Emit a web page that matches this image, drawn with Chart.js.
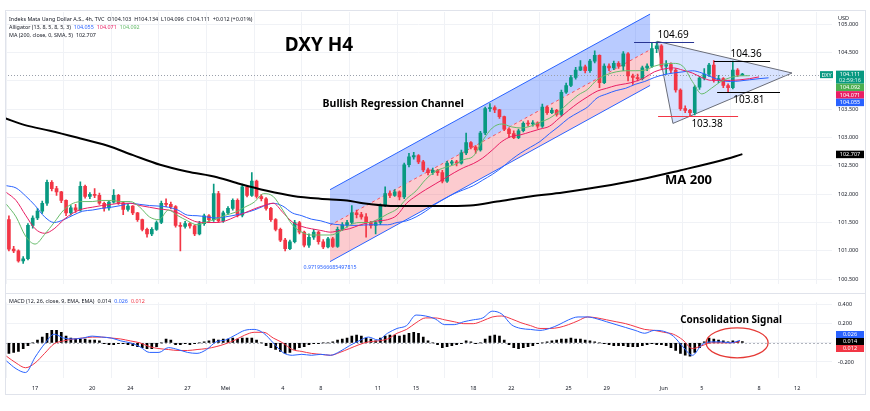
<!DOCTYPE html>
<html>
<head>
<meta charset="utf-8">
<script src="https://cdn.jsdelivr.net/npm/chart.js@4.4.0/dist/chart.umd.min.js"></script>
<style>
  body { margin: 0; background: #fff; }
  #wrap { position: relative; width: 870px; height: 411px; }
  canvas { position: absolute; left: 0; }
  #main { top: 0; }
  #macd { top: 293px; }
  #frame { position: absolute; left: 5px; top: 10px; width: 861px; height: 385px; border: 1px solid #e0e3eb; box-sizing: border-box; pointer-events: none; }
  #sep { position: absolute; left: 5px; top: 293px; width: 861px; height: 1px; background: #e0e3eb; }
</style>
</head>
<body>
<div id="wrap">
  <canvas id="main" width="870" height="293"></canvas>
  <canvas id="macd" width="870" height="102"></canvas>
  <div id="sep"></div>
  <div id="frame"></div>
</div>
<script>
// ---- data (DXY, 4 bars per trading day, x axis in trading days from 13 Apr) ----
const firstBarDay = 0.625;
const barStep = 0.25;

const opens = [
  101.55, 101.03, 101.00, 100.82, 100.86, 101.45, 101.58, 101.70, 101.84, 102.21,
  102.10, 102.04, 101.89, 101.67, 101.76, 101.72, 102.14, 101.96, 102.00, 101.98,
  101.84, 101.76, 101.86, 101.98, 101.85, 101.73, 101.79, 101.67, 101.55, 101.38,
  101.30, 101.38, 101.50, 101.84, 101.82, 101.78, 101.45, 101.43, 101.48, 101.44,
  101.30, 101.48, 101.62, 101.55, 102.01, 101.53, 101.67, 101.75, 101.89, 101.63,
  102.13, 101.98, 102.23, 101.96, 101.92, 101.75, 101.55, 101.38, 101.19, 101.04,
  101.16, 101.50, 101.33, 101.10, 101.24, 101.33, 101.16, 101.07, 101.21, 101.08,
  101.38, 101.46, 101.50, 101.67, 101.64, 101.60, 101.50, 101.45, 101.50, 101.80,
  102.01, 101.98, 102.04, 101.95, 102.52, 102.66, 102.68, 102.57, 102.43, 102.38,
  102.42, 102.38, 102.23, 102.55, 102.57, 102.55, 102.73, 102.91, 102.83, 102.78,
  103.08, 103.51, 103.53, 103.49, 103.37, 103.15, 103.07, 103.00, 103.12, 103.25,
  103.24, 103.26, 103.20, 103.54, 103.44, 103.48, 103.41, 103.80, 103.92, 104.06,
  104.19, 104.25, 104.18, 104.35, 104.45, 103.97, 104.26, 104.23, 104.31, 104.26,
  104.48, 104.09, 104.06, 104.04, 104.23, 104.26, 104.57, 104.62, 104.26, 104.29,
  104.19, 103.84, 103.51, 103.48, 103.44, 103.89, 104.05, 104.12, 104.28, 104.02,
  104.04, 103.92, 103.88, 104.19, 104.103
];
const highs = [
  101.62, 101.08, 101.02, 100.90, 101.48, 101.62, 101.75, 101.88, 102.25, 102.24,
  102.14, 102.05, 101.90, 101.80, 101.82, 102.22, 102.16, 102.03, 102.10, 102.02,
  101.86, 101.88, 102.08, 102.00, 101.87, 101.82, 101.80, 101.68, 101.56, 101.40,
  101.41, 101.53, 101.88, 101.92, 101.86, 101.80, 101.50, 101.52, 101.50, 101.46,
  101.52, 101.65, 101.64, 102.18, 102.05, 101.70, 101.78, 101.92, 101.92, 102.18,
  102.15, 102.38, 102.25, 102.00, 101.94, 101.77, 101.57, 101.40, 101.22, 101.19,
  101.54, 101.52, 101.35, 101.30, 101.38, 101.35, 101.20, 101.24, 101.24, 101.42,
  101.50, 101.54, 101.80, 101.72, 101.68, 101.66, 101.52, 101.53, 101.83, 102.13,
  102.06, 102.08, 102.06, 102.55, 102.72, 102.74, 102.70, 102.60, 102.46, 102.46,
  102.44, 102.42, 102.58, 102.60, 102.60, 102.78, 103.08, 102.93, 102.86, 103.11,
  103.54, 103.60, 103.56, 103.50, 103.38, 103.17, 103.12, 103.15, 103.28, 103.30,
  103.30, 103.28, 103.59, 103.56, 103.52, 103.50, 103.84, 103.96, 104.10, 104.24,
  104.36, 104.28, 104.38, 104.53, 104.46, 104.30, 104.30, 104.35, 104.34, 104.52,
  104.50, 104.12, 104.12, 104.26, 104.30, 104.68, 104.69, 104.64, 104.36, 104.32,
  104.22, 103.86, 103.56, 103.50, 103.92, 104.08, 104.22, 104.31, 104.36, 104.10,
  104.06, 103.95, 104.35, 104.22, 104.134
];
const lows = [
  101.00, 100.97, 100.80, 100.78, 100.84, 101.40, 101.55, 101.66, 101.80, 102.06,
  101.98, 101.85, 101.62, 101.63, 101.68, 101.70, 101.93, 101.92, 101.94, 101.82,
  101.70, 101.72, 101.84, 101.82, 101.64, 101.70, 101.64, 101.52, 101.35, 101.24,
  101.27, 101.36, 101.48, 101.78, 101.74, 101.42, 101.00, 101.40, 101.40, 101.27,
  101.28, 101.45, 101.50, 101.52, 101.50, 101.50, 101.64, 101.72, 101.60, 101.60,
  101.95, 101.96, 101.93, 101.88, 101.72, 101.52, 101.35, 101.16, 101.00, 101.02,
  101.14, 101.30, 101.07, 101.06, 101.20, 101.12, 101.04, 101.05, 101.06, 101.06,
  101.36, 101.42, 101.48, 101.58, 101.56, 101.24, 101.40, 101.30, 101.46, 101.78,
  101.94, 101.96, 101.90, 101.92, 102.48, 102.62, 102.54, 102.40, 102.34, 102.35,
  102.33, 102.20, 102.21, 102.52, 102.50, 102.53, 102.70, 102.80, 102.72, 102.76,
  103.05, 103.46, 103.44, 103.34, 103.12, 103.00, 102.98, 102.98, 103.10, 103.20,
  103.20, 103.16, 103.18, 103.41, 103.42, 103.38, 103.38, 103.78, 103.90, 104.03,
  104.18, 104.14, 104.15, 104.32, 103.88, 103.95, 104.18, 104.20, 104.22, 104.18,
  104.00, 103.94, 104.00, 104.02, 104.18, 104.24, 104.50, 104.22, 104.12, 104.14,
  103.80, 103.48, 103.44, 103.38, 103.40, 103.85, 104.02, 104.08, 103.98, 103.97,
  103.88, 103.81, 103.86, 104.08, 104.096
];
const closes = [
  101.03, 101.00, 100.82, 100.86, 101.45, 101.58, 101.70, 101.84, 102.21, 102.10,
  102.04, 101.89, 101.67, 101.76, 101.72, 102.14, 101.96, 102.00, 101.98, 101.84,
  101.76, 101.86, 101.98, 101.85, 101.73, 101.79, 101.67, 101.55, 101.38, 101.30,
  101.38, 101.50, 101.84, 101.82, 101.78, 101.45, 101.43, 101.48, 101.44, 101.30,
  101.48, 101.62, 101.55, 102.01, 101.53, 101.67, 101.75, 101.89, 101.63, 102.13,
  101.98, 102.23, 101.96, 101.92, 101.75, 101.55, 101.38, 101.19, 101.04, 101.16,
  101.50, 101.33, 101.10, 101.24, 101.33, 101.16, 101.07, 101.21, 101.08, 101.38,
  101.46, 101.50, 101.67, 101.64, 101.60, 101.50, 101.45, 101.50, 101.80, 102.01,
  101.98, 102.04, 101.95, 102.52, 102.66, 102.68, 102.57, 102.43, 102.38, 102.42,
  102.38, 102.23, 102.55, 102.57, 102.55, 102.73, 102.91, 102.83, 102.78, 103.08,
  103.51, 103.53, 103.49, 103.37, 103.15, 103.07, 103.00, 103.12, 103.25, 103.24,
  103.26, 103.20, 103.54, 103.44, 103.48, 103.41, 103.80, 103.92, 104.06, 104.19,
  104.25, 104.18, 104.35, 104.45, 103.97, 104.26, 104.23, 104.31, 104.26, 104.48,
  104.09, 104.06, 104.04, 104.23, 104.26, 104.57, 104.62, 104.26, 104.29, 104.19,
  103.84, 103.51, 103.48, 103.44, 103.89, 104.05, 104.12, 104.28, 104.02, 104.04,
  103.92, 103.88, 104.19, 104.10, 104.111
];

// Alligator lines and MACD lines, sampled every half trading day from day 0.5
const lineDayStart = 0.5;
const lineDayStep = 0.5;
const jaw = [
  102.15, 102.11, 101.97, 101.80, 101.60, 101.50, 101.55, 101.63, 101.70, 101.72,
  101.75, 101.77, 101.80, 101.84, 101.82, 101.80, 101.79, 101.77, 101.72, 101.63,
  101.62, 101.60, 101.58, 101.60, 101.63, 101.67, 101.72, 101.79, 101.84, 101.79,
  101.67, 101.62, 101.56, 101.53, 101.48, 101.46, 101.45, 101.45, 101.46, 101.46,
  101.46, 101.50, 101.53, 101.60, 101.70, 101.82, 101.92, 102.01, 102.08, 102.15,
  102.25, 102.35, 102.47, 102.61, 102.73, 102.83, 102.93, 103.07, 103.20, 103.34,
  103.44, 103.54, 103.70, 103.77, 103.83, 103.87, 103.94, 103.99, 104.06, 104.11,
  104.14, 104.16, 104.18, 104.14, 104.07, 104.01, 103.99, 104.00, 104.02, 104.04,
  104.055
];
const teeth = [
  102.03, 101.89, 101.63, 101.39, 101.31, 101.39, 101.55, 101.67, 101.74, 101.77,
  101.80, 101.82, 101.84, 101.84, 101.80, 101.77, 101.74, 101.72, 101.67, 101.58,
  101.51, 101.50, 101.50, 101.53, 101.60, 101.67, 101.74, 101.80, 101.84, 101.68,
  101.51, 101.43, 101.39, 101.36, 101.33, 101.36, 101.39, 101.45, 101.50, 101.53,
  101.55, 101.63, 101.84, 101.97, 102.08, 102.18, 102.28, 102.38, 102.47, 102.54,
  102.64, 102.78, 102.93, 103.02, 103.05, 103.10, 103.15, 103.20, 103.34, 103.48,
  103.61, 103.72, 103.82, 103.87, 103.92, 103.95, 103.99, 104.06, 104.16, 104.21,
  104.23, 104.19, 104.14, 104.06, 104.01, 104.01, 104.01, 104.02, 104.04, 104.071,
  null
];
const lips = [
  101.82, 101.60, 101.26, 101.12, 101.29, 101.50, 101.72, 101.84, 101.87, 101.87,
  101.89, 101.89, 101.87, 101.87, 101.77, 101.60, 101.55, 101.72, 101.62, 101.53,
  101.46, 101.51, 101.56, 101.63, 101.68, 101.77, 101.86, 102.01, 101.96, 101.72,
  101.46, 101.33, 101.28, 101.28, 101.28, 101.34, 101.45, 101.50, 101.50, 101.56,
  101.65, 101.74, 101.92, 102.06, 102.26, 102.40, 102.47, 102.52, 102.61, 102.67,
  102.95, 103.17, 103.24, 103.19, 103.17, 103.20, 103.27, 103.34, 103.46, 103.61,
  103.75, 103.85, 104.02, 104.11, 104.16, 104.18, 104.18, 104.19, 104.26, 104.30,
  104.31, 104.26, 103.99, 103.77, 103.87, 103.99, 104.06, 104.09, 104.092, null,
  null
];
const macdLine = [
  -0.19, -0.27, -0.31, -0.15, -0.01, 0.09, 0.05, 0.04, 0.05, 0.07,
  0.06, 0.05, 0.02, 0.00, -0.04, -0.10, -0.10, -0.05, -0.07, -0.10,
  -0.11, -0.07, 0.01, 0.03, 0.08, 0.13, 0.14, 0.10, 0.00, -0.10,
  -0.13, -0.12, -0.13, -0.12, -0.13, -0.09, -0.03, 0.02, 0.06, 0.03,
  0.10, 0.15, 0.18, 0.29, 0.28, 0.25, 0.19, 0.19, 0.22, 0.24,
  0.26, 0.33, 0.30, 0.19, 0.15, 0.14, 0.13, 0.15, 0.19, 0.24,
  0.27, 0.27, 0.25, 0.22, 0.19, 0.16, 0.13, 0.10, 0.13, 0.12,
  0.07, -0.04, -0.13, -0.02, 0.01, 0.01, 0.00, 0.026
];
const signalLine = [
  -0.14, -0.21, -0.26, -0.21, -0.11, -0.01, 0.02, 0.04, 0.05, 0.06,
  0.06, 0.05, 0.04, 0.02, 0.00, -0.04, -0.06, -0.07, -0.08, -0.08,
  -0.07, -0.06, -0.04, -0.01, 0.03, 0.08, 0.11, 0.11, 0.05, 0.00,
  -0.07, -0.09, -0.11, -0.12, -0.13, -0.10, -0.06, -0.02, 0.01, 0.02,
  0.04, 0.10, 0.14, 0.21, 0.26, 0.26, 0.24, 0.22, 0.20, 0.20,
  0.23, 0.27, 0.28, 0.25, 0.21, 0.18, 0.15, 0.15, 0.16, 0.19,
  0.23, 0.27, 0.26, 0.24, 0.22, 0.20, 0.17, 0.14, 0.13, 0.11,
  0.09, 0.03, -0.06, -0.03, 0.00, 0.00, 0.00, 0.012
];
// MACD histogram, one value per bar
const macdHist = [
  -0.11, -0.10, -0.09, -0.06, -0.03, 0.00, 0.03, 0.06, 0.10, 0.13,
  0.13, 0.11, 0.07, 0.05, 0.04, 0.04, 0.04, 0.03, 0.03, 0.02,
  -0.01, -0.02, -0.02, -0.01, -0.01, -0.02, -0.03, -0.04, -0.05, -0.06,
  -0.06, -0.04, 0.00, 0.04, 0.03, -0.02, -0.02, -0.01, -0.02, -0.01,
  0.00, 0.01, 0.02, 0.04, 0.03, 0.04, 0.04, 0.05, 0.04, 0.05,
  0.05, 0.05, 0.03, 0.00, -0.03, -0.05, -0.07, -0.09, -0.11, -0.10,
  -0.07, -0.05, -0.04, -0.02, -0.01, -0.01, 0.00, 0.00, 0.01, 0.03,
  0.04, 0.05, 0.07, 0.08, 0.07, 0.05, 0.04, 0.02, 0.05, 0.07,
  0.08, 0.08, 0.07, 0.08, 0.10, 0.11, 0.10, 0.06, 0.02, 0.00,
  -0.02, -0.05, -0.04, -0.03, -0.02, -0.01, 0.02, 0.01, -0.01, 0.00,
  0.04, 0.07, 0.08, 0.07, 0.03, -0.02, -0.05, -0.06, -0.05, -0.04,
  -0.03, -0.01, 0.00, 0.01, 0.02, 0.03, 0.04, 0.04, 0.05, 0.04,
  0.04, 0.03, 0.02, 0.01, 0.00, -0.01, -0.02, -0.03, -0.03, -0.03,
  -0.04, -0.04, -0.04, -0.03, -0.02, -0.01, -0.02, -0.02, -0.03, -0.05,
  -0.08, -0.11, -0.13, -0.14, -0.10, -0.05, 0.01, 0.05, 0.04, 0.03,
  0.02, 0.01, 0.02, 0.015, 0.014
];

// MA 200 (sparse read-out)
const maDays = [0.42, 1.47, 2.78, 4.2, 5.77, 7.14, 8.56, 9.97, 11.55, 12.76, 14.17, 15.54, 16.96,
  18.37, 19.21, 21, 23.25, 24.83, 26.25, 27.98, 29.71, 31.65, 33.75, 35.85, 37.95, 39.125];
const ma200 = [103.34, 103.22, 103.12, 103.00, 102.86, 102.69, 102.52, 102.40, 102.30, 102.18, 102.06, 101.97, 101.92,
  101.89, 101.84, 101.79, 101.79, 101.80, 101.87, 101.96, 102.03, 102.13, 102.26, 102.42, 102.59, 102.707];

// axis ticks
const dateTickDays = [2, 5, 7, 10, 12, 15, 17, 20, 22, 25, 27, 30, 32, 35, 37, 40, 42];
const dateTickLabels = ['17', '20', '24', '27', 'Mei', '4', '8', '11', '15', '18', '22', '25', '29', 'Jun', '5', '8', '12'];
const priceTicks = [100.5, 101, 101.5, 102, 102.5, 103, 103.5, 104, 104.5, 105];
const macdTicks = [-0.2, 0, 0.2, 0.4];

// drawings
const channelDays = [17.48, 34.28];
const channelTop = [102.08, 105.18];
const channelMid = [101.45, 104.55];
const channelBottom = [100.81, 103.92];
const triangleDays = [34.65, 35.48, 41.73];
const trianglePrices = [104.70, 103.25, 104.14];
const levelValues = [104.69, 104.36, 103.81, 103.38];
const levelFrom = [33.44, 37.64, 37.80, 34.70];
const levelTo = [36.59, 40.58, 41.10, 38.90];
const levelLabelDays = [35.49, 39.32, 39.47, 37.27];

// ---- styling ----
const UP = '#089981', DOWN = '#f23645';
const JAW = '#2962ff', TEETH = '#e91e63', LIPS = '#66bb6a';
const gridColor = '#f0f2f6';
const FONT = '"Noto Sans", sans-serif';
Chart.defaults.font.family = FONT;

const barDays = closes.map((c, i) => firstBarDay + i * barStep);
const lineDays = jaw.map((v, i) => lineDayStart + i * lineDayStep);
const candleColors = closes.map((c, i) => c >= opens[i] ? UP : DOWN);
const lastClose = closes[closes.length - 1];

function xAxis(showLabels) {
  return {
    type: 'linear', min: 0.42, max: 43.83, offset: false,
    afterBuildTicks: s => { s.ticks = dateTickDays.map(v => ({ value: v })); },
    grid: { color: gridColor, drawTicks: false },
    border: { display: false },
    ticks: {
      display: showLabels, autoSkip: false, maxRotation: 0, padding: 7,
      callback: (v, i) => dateTickLabels[i],
      font: { size: 5.5 }, color: '#131722'
    },
    afterFit: s => { s.height = showLabels ? 17 : 0; }
  };
}

function rightAxis(min, max, ticks, digits) {
  return {
    type: 'linear', position: 'right', min: min, max: max,
    afterBuildTicks: s => { s.ticks = ticks.map(v => ({ value: v })); },
    grid: { color: gridColor, drawTicks: false },
    border: { display: false },
    ticks: { callback: v => v.toFixed(digits), font: { size: 5.5 }, color: '#131722', padding: 6 },
    afterFit: s => { s.width = 38; }
  };
}

function tag(ctx, x, top, w, h, bg, text, fg) {
  ctx.fillStyle = bg;
  ctx.fillRect(x, top, w, h);
  ctx.fillStyle = fg || '#fff';
  ctx.font = '5.5px ' + FONT;
  ctx.textAlign = 'center';
  ctx.textBaseline = 'middle';
  ctx.fillText(text, x + w / 2, top + h / 2 + 0.3);
}

function segments(ctx, x, y, parts) {
  ctx.textAlign = 'left';
  ctx.textBaseline = 'middle';
  ctx.font = '5.4px ' + FONT;
  parts.forEach(([t, c]) => {
    ctx.fillStyle = c;
    ctx.fillText(t, x, y);
    x += ctx.measureText(t).width + 3;
  });
}

function label(ctx, text, px, py, font, color) {
  ctx.font = font;
  ctx.fillStyle = color;
  ctx.textAlign = 'center';
  ctx.textBaseline = 'middle';
  ctx.fillText(text, px, py);
}

const mainDrawings = {
  id: 'mainDrawings',
  beforeDatasetsDraw(chart) {
    const { ctx, chartArea: a, scales: { x, y } } = chart;
    ctx.save();
    const x0 = x.getPixelForValue(channelDays[0]);
    const x1 = x.getPixelForValue(channelDays[1]);
    const band = (up, dn, color) => {
      ctx.fillStyle = color;
      ctx.beginPath();
      ctx.moveTo(x0, y.getPixelForValue(up[0]));
      ctx.lineTo(x1, y.getPixelForValue(up[1]));
      ctx.lineTo(x1, y.getPixelForValue(dn[1]));
      ctx.lineTo(x0, y.getPixelForValue(dn[0]));
      ctx.closePath();
      ctx.fill();
    };
    band(channelTop, channelMid, 'rgba(41,98,255,0.33)');
    band(channelMid, channelBottom, 'rgba(242,54,69,0.26)');
    const line = (arr, color, dash) => {
      ctx.strokeStyle = color;
      ctx.lineWidth = 1;
      ctx.setLineDash(dash || []);
      ctx.beginPath();
      ctx.moveTo(x0, y.getPixelForValue(arr[0]));
      ctx.lineTo(x1, y.getPixelForValue(arr[1]));
      ctx.stroke();
    };
    line(channelTop, '#2962ff');
    line(channelBottom, '#2962ff');
    line(channelMid, 'rgba(242,54,69,0.8)', [3, 3]);
    ctx.setLineDash([]);

    // triangle
    ctx.beginPath();
    triangleDays.forEach((d, i) => {
      const px = x.getPixelForValue(d), py = y.getPixelForValue(trianglePrices[i]);
      if (i === 0) ctx.moveTo(px, py); else ctx.lineTo(px, py);
    });
    ctx.closePath();
    ctx.fillStyle = 'rgba(41,98,255,0.18)';
    ctx.fill();
    ctx.strokeStyle = '#6a6d78';
    ctx.lineWidth = 1;
    ctx.stroke();

    // last price line
    const ly = Math.round(y.getPixelForValue(lastClose)) + 0.5;
    ctx.strokeStyle = '#9aa0ab';
    ctx.setLineDash([1, 2]);
    ctx.beginPath();
    ctx.moveTo(a.left, ly);
    ctx.lineTo(a.right, ly);
    ctx.stroke();
    ctx.restore();
  },
  afterDraw(chart) {
    const { ctx, chartArea: a, scales: { x, y } } = chart;
    ctx.save();
    // horizontal levels
    const levelColors = ['#283593', '#000', '#000', '#f23645'];
    const levelOffset = [-7, -7, 8, 8];
    levelValues.forEach((v, i) => {
      const py = Math.round(y.getPixelForValue(v)) + 0.5;
      ctx.strokeStyle = levelColors[i];
      ctx.lineWidth = 1.2;
      ctx.beginPath();
      ctx.moveTo(x.getPixelForValue(levelFrom[i]), py);
      ctx.lineTo(x.getPixelForValue(levelTo[i]), py);
      ctx.stroke();
      label(ctx, v.toFixed(2), x.getPixelForValue(levelLabelDays[i]), py + levelOffset[i], '10px ' + FONT, '#000');
    });

    // titles
    label(ctx, 'DXY H4', x.getPixelForValue(16.9), y.getPixelForValue(104.62), 'bold 19px ' + FONT, '#000');
    label(ctx, 'Bullish Regression Channel', x.getPixelForValue(20.8), y.getPixelForValue(103.60), 'bold 10.5px ' + FONT, '#000');
    label(ctx, 'MA 200', x.getPixelForValue(36.3), y.getPixelForValue(102.25), 'bold 13px ' + FONT, '#000');
    label(ctx, '0.9719566685497815', x.getPixelForValue(channelDays[0]), y.getPixelForValue(100.71), '5.3px ' + FONT, '#2962ff');

    // header
    segments(ctx, 9, 19, [['Indeks Mata Uang Dollar A.S., 4h, TVC', '#131722'],
      ['O104.103  H104.134  L104.096  C104.111  +0.012 (+0.01%)', '#131722']]);
    segments(ctx, 9, 27, [['Alligator (13, 8, 5, 8, 5, 3)', '#131722'], ['104.055', JAW], ['104.071', TEETH], ['104.092', LIPS]]);
    segments(ctx, 9, 35, [['MA (200, close, 0, SMA, 5)', '#131722'], ['102.707', '#131722']]);

    // price scale tags
    const tx = a.right + 4, tw = 28;
    ctx.fillStyle = '#fff';
    ctx.fillRect(a.right + 1, 12, 37, 10);
    ctx.font = '5.5px ' + FONT;
    ctx.fillStyle = '#131722';
    ctx.textAlign = 'left';
    ctx.textBaseline = 'middle';
    ctx.fillText('USD', a.right + 6, 18);
    const ly = y.getPixelForValue(lastClose);
    tag(ctx, a.right - 12, ly - 3.5, 13, 7, UP, 'DXY');
    ctx.fillStyle = UP;
    ctx.fillRect(tx, ly - 4, tw, 13);
    ctx.fillStyle = '#fff';
    ctx.textAlign = 'center';
    ctx.fillText(lastClose.toFixed(3), tx + tw / 2, ly - 0.5);
    ctx.fillStyle = '#d8f2ec';
    ctx.fillText('02:59:16', tx + tw / 2, ly + 5.5);
    tag(ctx, tx, ly + 9, tw, 7.5, '#4caf50', lips[lips.length - 3].toFixed(3));
    tag(ctx, tx, ly + 16.5, tw, 7.5, TEETH, teeth[teeth.length - 2].toFixed(3));
    tag(ctx, tx, ly + 24, tw, 7.5, JAW, jaw[jaw.length - 1].toFixed(3));
    const my = y.getPixelForValue(ma200[ma200.length - 1]);
    tag(ctx, tx, my - 3.5, tw, 7.5, '#000', ma200[ma200.length - 1].toFixed(3));
    ctx.restore();
  }
};

new Chart(document.getElementById('main'), {
  type: 'bar',
  data: {
    datasets: [
      { type: 'line', label: 'MA 200', data: maDays.map((d, i) => ({ x: d, y: ma200[i] })),
        borderColor: '#000', borderWidth: 2, pointRadius: 0, cubicInterpolationMode: 'monotone', order: 1 },
      { type: 'line', label: 'Lips', data: lineDays.map((d, i) => ({ x: d, y: lips[i] })),
        borderColor: LIPS, borderWidth: 1, pointRadius: 0, cubicInterpolationMode: 'monotone', order: 2 },
      { type: 'line', label: 'Teeth', data: lineDays.map((d, i) => ({ x: d, y: teeth[i] })),
        borderColor: TEETH, borderWidth: 1, pointRadius: 0, cubicInterpolationMode: 'monotone', order: 3 },
      { type: 'line', label: 'Jaw', data: lineDays.map((d, i) => ({ x: d, y: jaw[i] })),
        borderColor: JAW, borderWidth: 1, pointRadius: 0, cubicInterpolationMode: 'monotone', order: 4 },
      { label: 'Body', data: barDays.map((d, i) => ({ x: d, y: [opens[i], closes[i]] })),
        backgroundColor: candleColors, barThickness: 3, minBarLength: 1, grouped: false, order: 10 },
      { label: 'Wick', data: barDays.map((d, i) => ({ x: d, y: [lows[i], highs[i]] })),
        backgroundColor: candleColors, barThickness: 1, grouped: false, order: 11 }
    ]
  },
  options: {
    responsive: false, devicePixelRatio: 1, animation: false, events: [],
    layout: { padding: { left: 5, top: 12, right: 0, bottom: 0 } },
    plugins: { legend: { display: false }, tooltip: { enabled: false } },
    scales: { x: xAxis(false), y: rightAxis(100.42, 105.217, priceTicks, 3) }
  },
  plugins: [mainDrawings]
});

const macdDrawings = {
  id: 'macdDrawings',
  beforeDatasetsDraw(chart) {
    const { ctx, chartArea: a, scales: { y } } = chart;
    ctx.save();
    const zy = Math.round(y.getPixelForValue(0)) + 0.5;
    ctx.strokeStyle = '#b2b5be';
    ctx.setLineDash([2, 2]);
    ctx.beginPath();
    ctx.moveTo(a.left, zy);
    ctx.lineTo(a.right, zy);
    ctx.stroke();
    ctx.restore();
  },
  afterDraw(chart) {
    const { ctx, chartArea: a, scales: { x, y } } = chart;
    ctx.save();
    segments(ctx, 9, 8, [['MACD (12, 26, close, 9, EMA, EMA)', '#131722'], ['0.014', '#131722'], ['0.026', JAW], ['0.012', DOWN]]);
    label(ctx, 'Consolidation Signal', x.getPixelForValue(38.53), y.getPixelForValue(0.237), 'bold 10px ' + FONT, '#000');
    ctx.strokeStyle = '#e53935';
    ctx.lineWidth = 1.3;
    ctx.beginPath();
    ctx.ellipse(x.getPixelForValue(38.85), y.getPixelForValue(0), 31, 15, 0, 0, Math.PI * 2);
    ctx.stroke();
    const tx = a.right + 4, tw = 28;
    const hy = y.getPixelForValue(macdHist[macdHist.length - 1]);
    tag(ctx, tx, hy - 10.5, tw, 7, JAW, macdLine[macdLine.length - 1].toFixed(3));
    tag(ctx, tx, hy - 3.5, tw, 7, '#000', macdHist[macdHist.length - 1].toFixed(3));
    tag(ctx, tx, hy + 3.5, tw, 7, DOWN, signalLine[signalLine.length - 1].toFixed(3));
    ctx.restore();
  }
};

new Chart(document.getElementById('macd'), {
  type: 'bar',
  data: {
    datasets: [
      { type: 'line', label: 'MACD', data: lineDays.slice(0, macdLine.length).map((d, i) => ({ x: d, y: macdLine[i] })),
        borderColor: JAW, borderWidth: 1, pointRadius: 0, cubicInterpolationMode: 'monotone', order: 1 },
      { type: 'line', label: 'Signal', data: lineDays.slice(0, signalLine.length).map((d, i) => ({ x: d, y: signalLine[i] })),
        borderColor: DOWN, borderWidth: 1, pointRadius: 0, cubicInterpolationMode: 'monotone', order: 2 },
      { label: 'Histogram', data: barDays.map((d, i) => ({ x: d, y: macdHist[i] })),
        backgroundColor: '#000', barThickness: 2, grouped: false, order: 3 }
    ]
  },
  options: {
    responsive: false, devicePixelRatio: 1, animation: false, events: [],
    layout: { padding: { left: 5, top: 0, right: 0, bottom: 0 } },
    plugins: { legend: { display: false }, tooltip: { enabled: false } },
    scales: { x: xAxis(true), y: rightAxis(-0.367, 0.423, macdTicks, 3) }
  },
  plugins: [macdDrawings]
});
</script>
</body>
</html>
